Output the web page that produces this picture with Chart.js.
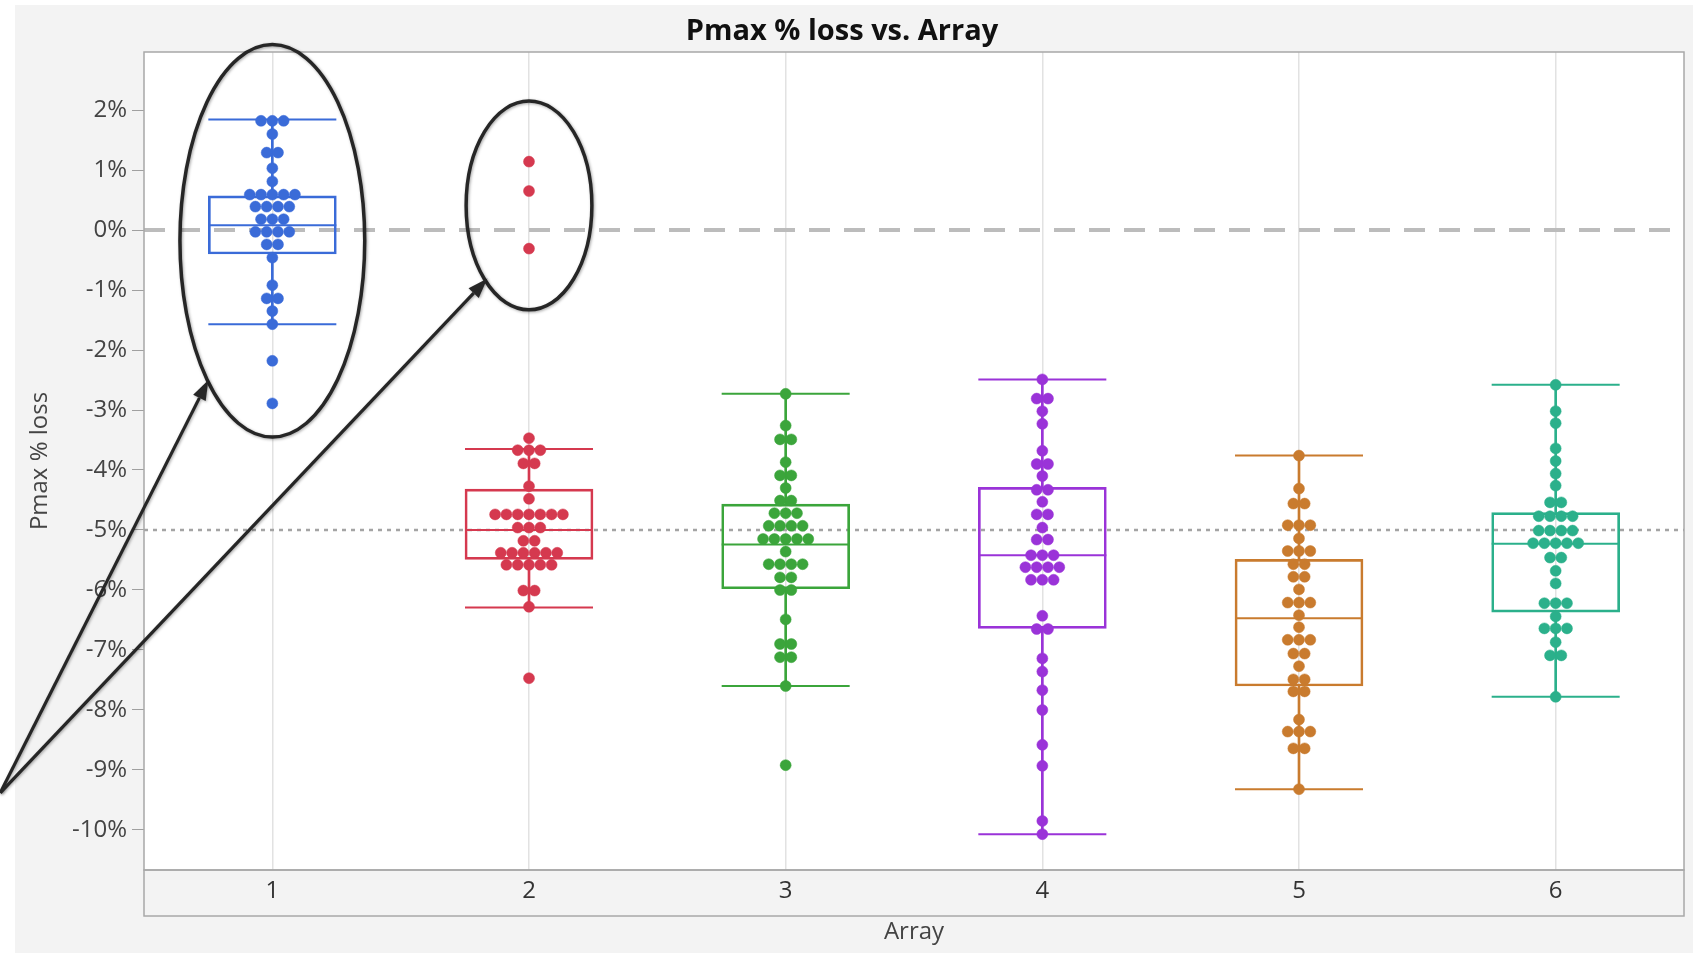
<!DOCTYPE html>
<html lang="en">
<head>
<meta charset="UTF-8">
<title>Pmax % loss vs. Array</title>
<script src="https://cdn.jsdelivr.net/npm/chart.js@4/dist/chart.umd.min.js"></script>
<style>
  html, body { margin: 0; padding: 0; background: #fff; }
  #wrap { width: 1693px; height: 953px; position: relative; }
</style>
</head>
<body>
<div id="wrap"><canvas id="chart"></canvas></div>
<script>
// Categories (Array number)
const GROUPS = [1, 2, 3, 4, 5, 6];

const ARRAY1 = [1.82, 1.82, 1.82, 1.6, 1.29, 1.29, 1.03, 0.81, 0.59, 0.59, 0.59, 0.59, 0.59,
  0.39, 0.39, 0.39, 0.39, 0.18, 0.18, 0.18, -0.03, -0.03, -0.03, -0.03, -0.24, -0.24,
  -0.46, -0.92, -1.14, -1.14, -1.35, -1.57, -2.18, -2.89];
const ARRAY2 = [1.14, 0.65, -0.31, -3.47, -3.67, -3.67, -3.67, -3.89, -3.89, -4.27, -4.48,
  -4.74, -4.74, -4.74, -4.74, -4.74, -4.74, -4.74, -4.96, -4.96, -4.96, -5.18, -5.18,
  -5.38, -5.38, -5.38, -5.38, -5.38, -5.38, -5.58, -5.58, -5.58, -5.58, -5.58,
  -6.01, -6.01, -6.28, -7.47];
const ARRAY3 = [-2.73, -3.26, -3.49, -3.49, -3.87, -4.09, -4.09, -4.3, -4.51, -4.51,
  -4.72, -4.72, -4.72, -4.93, -4.93, -4.93, -4.93, -5.15, -5.15, -5.15, -5.15, -5.15,
  -5.36, -5.57, -5.57, -5.57, -5.57, -5.79, -5.79, -6.0, -6.0, -6.49, -6.9, -6.9,
  -7.12, -7.12, -7.6, -8.92];
const ARRAY4 = [-2.49, -2.81, -2.81, -3.02, -3.23, -3.68, -3.9, -3.9, -4.1, -4.33, -4.33,
  -4.53, -4.74, -4.74, -4.96, -5.16, -5.16, -5.42, -5.42, -5.42, -5.62, -5.62, -5.62, -5.62,
  -5.83, -5.83, -5.83, -6.43, -6.65, -6.65, -7.14, -7.36, -7.67, -8.0, -8.58, -8.93,
  -9.85, -10.07];
const ARRAY5 = [-3.76, -4.31, -4.56, -4.56, -4.92, -4.92, -4.92, -5.14, -5.35, -5.35, -5.35,
  -5.57, -5.57, -5.78, -5.78, -5.99, -6.21, -6.21, -6.21, -6.42, -6.62, -6.83, -6.83, -6.83,
  -7.06, -7.06, -7.27, -7.49, -7.49, -7.69, -7.69, -8.16, -8.36, -8.36, -8.36,
  -8.64, -8.64, -9.32];
const ARRAY6 = [-2.58, -3.02, -3.22, -3.64, -3.85, -4.06, -4.26, -4.54, -4.54,
  -4.77, -4.77, -4.77, -4.77, -5.01, -5.01, -5.01, -5.01, -5.22, -5.22, -5.22, -5.22, -5.22,
  -5.46, -5.46, -5.68, -5.89, -6.22, -6.22, -6.22, -6.44, -6.64, -6.64, -6.64, -6.87,
  -7.09, -7.09, -7.78];
const VALUES = [ARRAY1, ARRAY2, ARRAY3, ARRAY4, ARRAY5, ARRAY6];

// Box plot summary per array
const Q1 = [-0.4, -5.49, -5.98, -6.64, -7.6, -6.37];
const MEDIAN = [0.08, -5.0, -5.24, -5.42, -6.47, -5.23];
const Q3 = [0.57, -4.32, -4.57, -4.29, -5.49, -4.71];
const WHISKER_LO = [-1.57, -6.29, -7.6, -10.07, -9.32, -7.78];
const WHISKER_HI = [1.84, -3.65, -2.73, -2.49, -3.76, -2.58];

// Reference lines (0% dashed, -5% dotted)
const REF_ZERO = 0;
const REF_TARGET = -5;

const Y_TICKS = [2, 1, 0, -1, -2, -3, -4, -5, -6, -7, -8, -9, -10];
const Y_MIN = -10.667;
const Y_MAX = 2.967;

const COLORS = ['#3a6bd8', '#d5394f', '#3ba53b', '#9a33d8', '#c97b2e', '#2bb08b'];
const FONT = "'Open Sans', 'Liberation Sans', sans-serif";
const DOT_STEP = 0.044; // horizontal spacing of swarm dots, in category units

// spread dots with equal value side by side around the category centre
function swarm(values, center) {
  const counts = {};
  values.forEach(v => { counts[v] = (counts[v] || 0) + 1; });
  const seen = {};
  return values.map(v => {
    const i = seen[v] || 0;
    seen[v] = i + 1;
    return { x: center + (i - (counts[v] - 1) / 2) * DOT_STEP, y: v };
  });
}

const datasets = [];

datasets.push({
  type: 'line', order: 20,
  data: [{ x: 0.5, y: REF_ZERO }, { x: 6.5, y: REF_ZERO }],
  borderColor: '#bcbcbc', borderWidth: 4, borderDash: [21, 14], pointRadius: 0
});
datasets.push({
  type: 'line', order: 20,
  data: [{ x: 0.5, y: REF_TARGET }, { x: 6.5, y: REF_TARGET }],
  borderColor: '#a4a4a4', borderWidth: 2.5, borderDash: [4, 5], pointRadius: 0
});

GROUPS.forEach((g, i) => {
  const c = COLORS[i];
  // box
  datasets.push({
    type: 'bar', order: 10, grouped: false,
    data: [{ x: g, y: [Q1[i], Q3[i]] }],
    backgroundColor: 'rgba(0,0,0,0)', borderColor: c, borderWidth: 2,
    borderSkipped: false, barThickness: 128
  });
  // whiskers
  datasets.push({
    type: 'bar', order: 9, grouped: false,
    data: [{ x: g, y: [Q3[i], WHISKER_HI[i]] }, { x: g, y: [WHISKER_LO[i], Q1[i]] }],
    backgroundColor: c, borderWidth: 0, barThickness: 2
  });
  // whisker caps + median
  datasets.push({
    type: 'scatter', order: 8,
    data: [{ x: g, y: WHISKER_HI[i] }, { x: g, y: WHISKER_LO[i] }, { x: g, y: MEDIAN[i] }],
    pointStyle: 'line', pointRadius: 64, pointBorderWidth: 2, borderColor: c,
    pointBorderColor: c, pointHoverRadius: 64
  });
  // dots
  datasets.push({
    type: 'scatter', order: 1,
    data: swarm(VALUES[i], g),
    pointRadius: 5.5, pointBackgroundColor: c, pointBorderColor: c, pointBorderWidth: 0.5
  });
});

// JMP style panel, plot frame, axis band, plus the hand drawn annotations
const decorPlugin = {
  id: 'decor',
  beforeDraw(chart) {
    const { ctx, chartArea: a } = chart;
    ctx.save();
    ctx.fillStyle = '#ffffff';
    ctx.fillRect(0, 0, chart.width, chart.height);
    ctx.fillStyle = '#f3f3f3';
    ctx.fillRect(15, 5, chart.width - 15, chart.height - 5);
    ctx.fillStyle = '#ffffff';
    ctx.fillRect(a.left, a.top, a.right - a.left, a.bottom - a.top);
    ctx.restore();
  },
  afterDraw(chart) {
    const { ctx, chartArea: a, scales: { x, y } } = chart;
    ctx.save();
    ctx.strokeStyle = '#a8a8a8';
    ctx.lineWidth = 1.5;
    ctx.strokeRect(a.left, a.top, a.right - a.left, a.bottom - a.top);
    ctx.strokeRect(a.left, a.bottom, a.right - a.left, 46);
    ctx.restore();

    // annotations, placed in data units
    const px = (vx) => x.getPixelForValue(vx);
    const py = (vy) => y.getPixelForValue(vy);
    ctx.save();
    ctx.strokeStyle = '#262626';
    ctx.fillStyle = '#262626';
    ctx.lineWidth = 3.5;
    ctx.shadowColor = 'rgba(0,0,0,0.35)';
    ctx.shadowBlur = 3;
    ctx.shadowOffsetX = 1;
    ctx.shadowOffsetY = 1;
    const ellipse = (cx, cy, rx, ry) => {
      const X = px(cx), Y = py(cy);
      const RX = px(cx + rx) - X, RY = py(cy - ry) - Y;
      ctx.beginPath();
      ctx.ellipse(X, Y, RX, RY, 0, 0, Math.PI * 2);
      ctx.stroke();
    };
    ellipse(1.0, -0.18, 0.36, 3.27);
    ellipse(2.0, 0.41, 0.245, 1.74);
    const arrow = (x0, y0, x1, y1) => {
      const X0 = px(x0), Y0 = py(y0), X1 = px(x1), Y1 = py(y1);
      const ang = Math.atan2(Y1 - Y0, X1 - X0);
      const len = 20, half = 7;
      const bx = X1 - Math.cos(ang) * len, by = Y1 - Math.sin(ang) * len;
      ctx.lineWidth = 3.2;
      ctx.beginPath();
      ctx.moveTo(X0, Y0);
      ctx.lineTo(bx, by);
      ctx.stroke();
      ctx.beginPath();
      ctx.moveTo(X1, Y1);
      ctx.lineTo(bx + Math.sin(ang) * half, by - Math.cos(ang) * half);
      ctx.lineTo(bx - Math.sin(ang) * half, by + Math.cos(ang) * half);
      ctx.closePath();
      ctx.fill();
    };
    arrow(-0.06, -9.38, 0.751, -2.5);
    arrow(-0.06, -9.38, 1.838, -0.81);
    ctx.restore();
  }
};

new Chart(document.getElementById('chart'), {
  data: { datasets },
  plugins: [decorPlugin],
  options: {
    responsive: true,
    maintainAspectRatio: false,
    devicePixelRatio: 1,
    animation: false,
    events: [],
    layout: { autoPadding: false, padding: { left: 0, right: 9, top: 0, bottom: 0 } },
    plugins: {
      legend: { display: false },
      tooltip: { enabled: false },
      title: {
        display: true,
        text: 'Pmax % loss vs. Array',
        color: '#111',
        font: { family: FONT, size: 29, weight: 'bold' },
        padding: { top: 14.5, bottom: 2.7 }
      }
    },
    scales: {
      x: {
        type: 'linear',
        min: 0.5,
        max: 6.5,
        offset: false,
        afterBuildTicks: (s) => { s.ticks = GROUPS.map(v => ({ value: v })); },
        afterFit: (s) => { s.height = 83; s.paddingLeft = 0; s.paddingRight = 0; },
        grid: { color: '#e2e2e2', lineWidth: 1.5, drawTicks: false, offset: false },
        border: { display: false },
        ticks: {
          color: '#333',
          font: { family: FONT, size: 24 },
          padding: 7,
          callback: (v) => String(v)
        },
        title: {
          display: true,
          text: 'Array',
          color: '#444',
          font: { family: FONT, size: 24 },
          padding: { top: 4, bottom: 6.5 }
        }
      },
      y: {
        type: 'linear',
        min: Y_MIN,
        max: Y_MAX,
        afterBuildTicks: (s) => { s.ticks = Y_TICKS.map(v => ({ value: v })); },
        afterFit: (s) => { s.width = 144; s.paddingTop = 0; s.paddingBottom = 0; },
        grid: { drawOnChartArea: false, drawTicks: true, tickLength: 12, tickColor: '#a0a0a0' },
        border: { display: false },
        ticks: {
          color: '#444',
          font: { family: FONT, size: 24 },
          padding: 5,
          callback: (v) => v + '%'
        },
        title: {
          display: true,
          text: 'Pmax % loss',
          color: '#444',
          font: { family: FONT, size: 24 },
          padding: { top: 25.6, bottom: 0 }
        }
      }
    }
  }
});
</script>
</body>
</html>
